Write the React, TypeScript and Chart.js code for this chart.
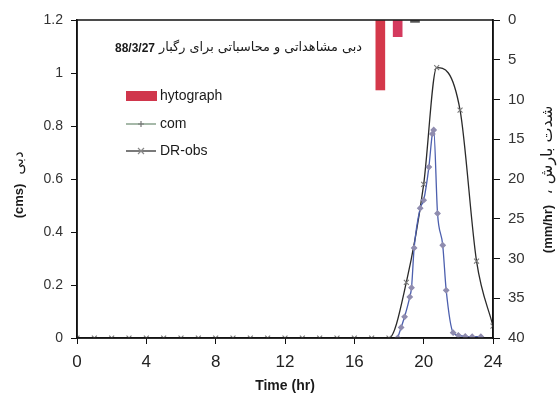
import React, { useEffect, useRef } from "react";
import { Chart, registerables } from "chart.js";
Chart.register(...registerables);

// Time axis (hr)
const xTicks = [0, 4, 8, 12, 16, 20, 24];

// Observed discharge DR-obs (cms)
const obsTime = [0, 1, 2, 3, 4, 5, 6, 7, 8, 9, 10, 11, 12, 13, 14, 15, 16, 17, 18, 19, 20, 20.75, 22.1, 23.05, 24];
const obsFlow = [0, 0, 0, 0, 0, 0, 0, 0, 0, 0, 0, 0, 0, 0, 0, 0, 0, 0, 0, 0.21, 0.58, 1.02, 0.86, 0.29, 0.045];

// Computed discharge com (cms)
const comTime = [18.5, 18.7, 18.9, 19.2, 19.3, 19.45, 19.8, 20.0, 20.3, 20.5, 20.58, 20.8, 21.1, 21.3, 21.7, 22.0, 22.4, 22.8, 23.3];
const comFlow = [0, 0.04, 0.08, 0.155, 0.19, 0.34, 0.49, 0.52, 0.645, 0.77, 0.785, 0.47, 0.35, 0.18, 0.02, 0.01, 0.006, 0.005, 0.005];

// Hyetograph rainfall intensity (mm/hr)
const rainTime = [17.5, 18.5, 19.5];
const rainValue = [8.8, 2.1, 0.3];
const rainColors = ["#d4384a", "#d43a5e", "#555555"];

// Text
const titleDate = "88/3/27";
const titleFa = "دبی مشاهداتی و محاسباتی برای رگبار";
const xTitle = "Time (hr)";
const yTitleUnit = "(cms)";
const yTitleFa = "دبی";
const y2TitleUnit = "(mm/hr)";
const y2TitleFa = "، شدت بارش";
const legendLabels = ["hytograph", "com", "DR-obs"];

const SANS = "'Liberation Sans', Arial, sans-serif";
const FA = "'DejaVu Sans', sans-serif";

const overlay = {
  id: "overlay",
  afterDraw(chart: any) {
    const ctx = chart.ctx as CanvasRenderingContext2D;
    const a = chart.chartArea;
    ctx.save();
    // frame
    ctx.strokeStyle = "#111";
    ctx.lineWidth = 1.5;
    ctx.strokeRect(a.left, a.top, a.right - a.left, a.bottom - a.top);

    ctx.fillStyle = "#1a1a1a";
    ctx.textBaseline = "middle";
    // title inside plot
    ctx.font = `bold 12px ${SANS}`;
    ctx.textAlign = "left";
    ctx.fillText(titleDate, 115, 49);
    const dw = ctx.measureText(titleDate).width;
    let fs = 12;
    ctx.font = `${fs}px ${FA}`;
    const w0 = ctx.measureText(titleFa).width;
    fs = Math.max(8, Math.min(14, (12 * 203) / w0));
    ctx.font = `${fs}px ${FA}`;
    ctx.fillText(titleFa, 115 + dw + 4, 48);

    // legend
    ctx.fillStyle = "#d0364c";
    ctx.fillRect(126, 91, 31, 10);
    ctx.strokeStyle = "#6a8a70";
    ctx.lineWidth = 1.2;
    ctx.beginPath(); ctx.moveTo(126, 124); ctx.lineTo(156, 124); ctx.stroke();
    ctx.strokeStyle = "#777";
    ctx.beginPath(); ctx.moveTo(141, 121); ctx.lineTo(141, 127); ctx.moveTo(138, 124); ctx.lineTo(144, 124); ctx.stroke();
    ctx.strokeStyle = "#222";
    ctx.beginPath(); ctx.moveTo(126, 151); ctx.lineTo(156, 151); ctx.stroke();
    ctx.strokeStyle = "#888";
    ctx.beginPath(); ctx.moveTo(138, 148); ctx.lineTo(144, 154); ctx.moveTo(144, 148); ctx.lineTo(138, 154); ctx.stroke();
    ctx.fillStyle = "#1a1a1a";
    ctx.font = `14px ${SANS}`;
    ctx.fillText(legendLabels[0], 160, 96);
    ctx.fillText(legendLabels[1], 160, 124);
    ctx.fillText(legendLabels[2], 160, 151);

    // x title
    ctx.textAlign = "center";
    ctx.font = `bold 14px ${SANS}`;
    ctx.fillText(xTitle, (a.left + a.right) / 2, 386);

    // left title (rotated)
    ctx.save();
    ctx.translate(19, 0);
    ctx.rotate(-Math.PI / 2);
    ctx.font = `bold 13px ${SANS}`;
    ctx.fillText(yTitleUnit, -201, 0);
    ctx.font = `15px ${FA}`;
    ctx.fillText(yTitleFa, -163, 0);
    ctx.restore();

    // right title (rotated)
    ctx.save();
    ctx.translate(548, 0);
    ctx.rotate(-Math.PI / 2);
    ctx.font = `bold 13px ${SANS}`;
    ctx.fillText(y2TitleUnit, -229, 0);
    ctx.font = `13px ${FA}`;
    const fw = ctx.measureText(y2TitleFa).width;
    const fs2 = Math.min(16, (13 * 90) / fw);
    ctx.font = `${fs2}px ${FA}`;
    ctx.fillText(y2TitleFa, -150, 0);
    ctx.restore();

    ctx.restore();
  },
};

export default function App() {
  const ref = useRef<HTMLCanvasElement | null>(null);
  useEffect(() => {
    document.body.style.margin = "0";
    document.body.style.background = "#fff";
    const canvas = ref.current!;
    const chart = new Chart(canvas, {
      type: "line",
      data: {
        datasets: [
          {
            type: "line",
            label: legendLabels[2],
            data: obsTime.map((t, i) => ({ x: t, y: obsFlow[i] })),
            borderColor: "#2a2a2a",
            borderWidth: 1.3,
            pointStyle: "crossRot",
            pointRadius: 3.5,
            pointBorderColor: "#7a7a7a",
            pointBorderWidth: 1.1,
            cubicInterpolationMode: "monotone",
            xAxisID: "x",
            yAxisID: "y",
            order: 2,
          } as any,
          {
            type: "line",
            label: legendLabels[1],
            data: comTime.map((t, i) => ({ x: t, y: comFlow[i] })),
            borderColor: "#4c5fae",
            borderWidth: 1.3,
            pointStyle: "rectRot",
            pointRadius: 2.5,
            pointBackgroundColor: "#8f8caf",
            pointBorderColor: "#8f8caf",
            cubicInterpolationMode: "monotone",
            xAxisID: "x",
            yAxisID: "y",
            order: 1,
          } as any,
          {
            type: "bar",
            label: legendLabels[0],
            data: rainTime.map((t, i) => ({ x: t, y: rainValue[i] })),
            backgroundColor: rainColors,
            barThickness: 9,
            xAxisID: "x",
            yAxisID: "y2",
            order: 3,
          } as any,
        ],
      },
      options: {
        animation: false,
        responsive: false,
        layout: { padding: { top: 20, left: 0, right: 0, bottom: 0 } },
        plugins: { legend: { display: false }, title: { display: false }, tooltip: { enabled: false } },
        scales: {
          x: {
            type: "linear",
            offset: false,
            min: 0,
            max: 24,
            afterBuildTicks: (s: any) => { s.ticks = xTicks.map((v) => ({ value: v })); },
            afterFit: (s: any) => { s.height = 56; },
            grid: { drawOnChartArea: false, color: "#111", tickLength: 6, offset: false },
            border: { color: "#111", width: 1.5 },
            ticks: { color: "#222", font: { size: 17, family: SANS }, padding: 8 },
          },
          y: {
            position: "left",
            min: 0,
            max: 1.2,
            ticks: {
              stepSize: 0.2,
              color: "#333",
              font: { size: 14, family: SANS },
              padding: 8,
              callback: (v: any) => String(Math.round(Number(v) * 10) / 10),
            },
            afterFit: (s: any) => { s.width = 77; },
            grid: { drawOnChartArea: false, color: "#111", tickLength: 6 },
            border: { color: "#111", width: 1.5 },
          },
          y2: {
            position: "right",
            min: 0,
            max: 40,
            reverse: true,
            ticks: { stepSize: 5, color: "#333", font: { size: 15, family: SANS }, padding: 8 },
            afterFit: (s: any) => { s.width = 64; },
            grid: { drawOnChartArea: false, color: "#111", tickLength: 7 },
            border: { color: "#111", width: 1.5 },
          },
        },
      } as any,
      plugins: [overlay],
    });
    return () => chart.destroy();
  }, []);
  return (
    <div style={{ width: 557, height: 394, background: "#fff" }}>
      <canvas ref={ref} width={557} height={394} style={{ display: "block" }} />
    </div>
  );
}
